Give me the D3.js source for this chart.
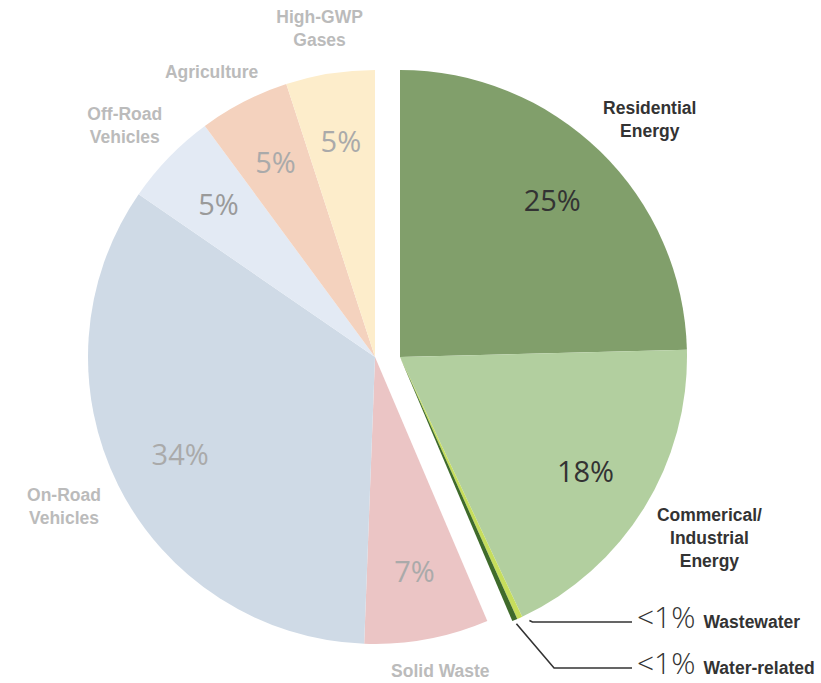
<!DOCTYPE html>
<html>
<head>
<meta charset="utf-8">
<script src="https://cdn.jsdelivr.net/npm/d3@7"></script>
<style>
  body { margin: 0; background: #fff; }
  .pct { font-family: "Open Sans", sans-serif; }
  .cat { font-family: "Liberation Sans", Arial, sans-serif; font-weight: bold; font-size: 17.5px; }
</style>
</head>
<body>
<div id="chart"></div>
<script>
// sectors, clockwise from 12 o'clock
var sectors = ["Residential Energy", "Commerical/ Industrial Energy", "Wastewater", "Water-related",
               "Solid Waste", "On-Road Vehicles", "Off-Road Vehicles", "Agriculture", "High-GWP Gases"];
var shares = [24.6, 18.4, 0.3, 0.3, 7.0, 34.0, 5.3, 5.1, 5.0];
var shareLabels = ["25%", "18%", "<1%", "<1%", "7%", "34%", "5%", "5%", "5%"];
var labelLines = [["Residential", "Energy"], ["Commerical/", "Industrial", "Energy"], ["Wastewater"], ["Water-related"],
                  ["Solid Waste"], ["On-Road", "Vehicles"], ["Off-Road", "Vehicles"], ["Agriculture"], ["High-GWP", "Gases"]];
var colors = ["#819f6b", "#b2cf9f", "#c6dd5c", "#3f6b2b", "#ebc5c5", "#cfdae6", "#e3eaf4", "#f4d2be", "#fdedcb"];

var width = 821, height = 683;
var cx = 375, cy = 357, r = 287, explode = 25;
var labelR = 218, catR = 311;

var svg = d3.select("#chart").append("svg")
    .attr("width", width)
    .attr("height", height);

var data = sectors.map(function (s, i) {
    return { name: s, value: shares[i], pct: shareLabels[i], lines: labelLines[i], color: colors[i], energy: i < 4 };
});

var pie = d3.pie().sort(null).value(function (d) { return d.value; });
var arcs = pie(data);
var arc = d3.arc().innerRadius(0).outerRadius(r);

function groupX(d) { return d.data.energy ? cx + explode : cx; }
function mid(d) { return (d.startAngle + d.endAngle) / 2; }
function polar(a, rad) { return [Math.sin(a) * rad, -Math.cos(a) * rad]; }

svg.append("g").selectAll("path")
    .data(arcs)
    .enter().append("path")
    .attr("transform", function (d) { return "translate(" + groupX(d) + "," + cy + ")"; })
    .attr("d", arc)
    .attr("fill", function (d) { return d.data.color; });

// percent labels inside the big slices
var big = arcs.filter(function (d) { return d.data.value > 1; });
svg.selectAll("text.pct")
    .data(big)
    .enter().append("text")
    .attr("class", "pct")
    .attr("text-anchor", "middle")
    .attr("dy", "0.35em")
    .attr("font-size", 29)
    .attr("fill", function (d) { return d.data.energy ? "#333" : (d.index == 6 ? "#9a9a9a" : "#aaaaaa"); })
    .attr("x", function (d) { return groupX(d) + polar(mid(d), labelR)[0]; })
    .attr("y", function (d) { return cy + polar(mid(d), labelR)[1]; })
    .text(function (d) { return d.data.pct; });

// category labels outside, box pushed out from the rim
var lh = 23;
var cat = svg.selectAll("text.cat")
    .data(big)
    .enter().append("text")
    .attr("class", "cat")
    .attr("text-anchor", "middle")
    .attr("fill", function (d) { return d.data.energy ? "#333" : "#bbbbbb"; });
cat.selectAll("tspan")
    .data(function (d) { return d.data.lines; })
    .enter().append("tspan")
    .attr("x", 0)
    .attr("y", function (d, i, n) { return (i - (n.length - 1) / 2) * lh; })
    .attr("dy", "0.35em")
    .text(function (d) { return d; });
cat.attr("transform", function (d) {
    var b = this.getBBox();
    var a = mid(d);
    var p = polar(a, catR);
    var x = groupX(d) + p[0] + b.width / 2 * Math.sin(a);
    var y = cy + p[1] - b.height / 2 * Math.cos(a);
    y = Math.min(y, height - b.height / 2 - 2);
    return "translate(" + x + "," + y + ")";
});

// leader lines for the two tiny slices
var tiny = arcs.filter(function (d) { return d.data.value <= 1; });
var lineEnd = 632;
var rowY = [622, 668];
tiny.forEach(function (d, i) {
    var p = polar(mid(d), r + 4);
    var sx = groupX(d) + p[0], sy = cy + p[1];
    var pts;
    if (i == 0) {
        pts = [[sx + 8, sy - 1], [sx + 11, rowY[0]], [lineEnd, rowY[0]]];
    } else {
        pts = [[sx, sy], [sx + (rowY[1] - sy) * 0.85, rowY[1]], [lineEnd, rowY[1]]];
    }
    svg.append("path")
        .attr("d", d3.line()(pts))
        .attr("fill", "none")
        .attr("stroke", "#333")
        .attr("stroke-width", 1.6);
    var t = svg.append("text")
        .attr("x", lineEnd + 5)
        .attr("y", rowY[i])
        .attr("dy", "0.35em")
        .attr("fill", "#333");
    t.append("tspan").attr("class", "pct").attr("font-size", 30).attr("font-weight", 300).text(d.data.pct);
    t.append("tspan").attr("class", "cat").attr("dx", 8).text(d.data.name);
});
</script>
</body>
</html>
